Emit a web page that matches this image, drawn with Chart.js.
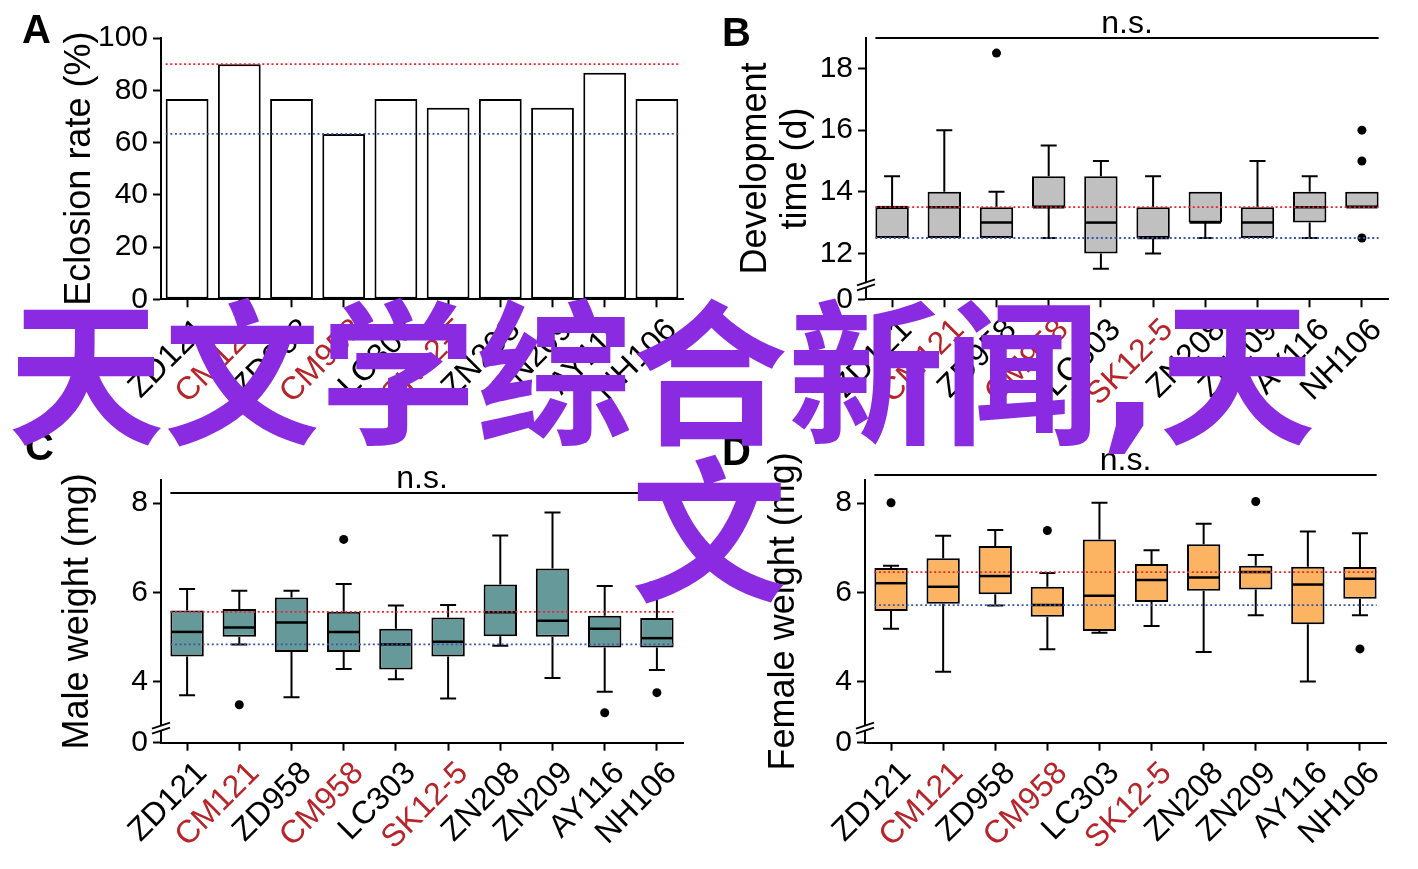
<!DOCTYPE html>
<html><head><meta charset="utf-8">
<script src="https://cdn.jsdelivr.net/npm/chart.js@4.4.1/dist/chart.umd.min.js"></script>
<style>
html,body{margin:0;padding:0;background:#fff;width:1418px;height:869px;overflow:hidden;position:relative;}
canvas{position:absolute;}
.lbl{position:absolute;font-family:"Liberation Sans",Arial,sans-serif;font-weight:bold;font-size:40px;line-height:40px;color:#000;z-index:5;}
.wm{position:absolute;font-family:"DejaVu Sans","Noto Sans CJK SC",sans-serif;font-weight:bold;font-size:156px;line-height:156px;color:#8a2be2;white-space:nowrap;z-index:10;}
</style></head><body>
<canvas id="cA" width="709" height="434" style="left:0;top:0"></canvas>
<canvas id="cB" width="709" height="434" style="left:709px;top:0"></canvas>
<canvas id="cC" width="709" height="435" style="left:0;top:434px"></canvas>
<canvas id="cD" width="709" height="435" style="left:709px;top:434px"></canvas>
<div class="lbl" style="left:22px;top:9px">A</div>
<div class="lbl" style="left:722px;top:12px">B</div>
<div class="lbl" style="left:25px;top:426px">C</div>
<div class="lbl" style="left:722px;top:431px">D</div>
<div class="wm" style="left:8px;top:300px">天文学综合新闻,天</div>
<div class="wm" style="left:631px;top:457px">文</div>
<script>
// ---------- data ----------
const strains = ['ZD121','CM121','ZD958','CM958','LC303','SK12-5','ZN208','ZN209','AY116','NH106'];
const redStrains = ['CM121','CM958','SK12-5'];

// A: eclosion rate (%)
const eclosionRate = [76.7, 90.0, 76.7, 63.3, 76.7, 73.3, 76.7, 73.3, 86.7, 76.7];
const eclosionRefRed = 90.0;
const eclosionRefBlue = 63.3;
const eclosionTicks = [0, 20, 40, 60, 80, 100];

// B: development time (d)
const devLow  = [12.5, 12.5, 12.5, 12.5, 11.5, 12.0, 12.5, 12.5, 12.5, 13.5];
const devQ1   = [12.5, 12.5, 12.5, 13.5, 12.0, 12.5, 13.0, 12.5, 13.0, 13.5];
const devMed  = [13.5, 13.5, 13.0, 13.5, 13.0, 12.5, 13.0, 13.0, 13.5, 13.5];
const devQ3   = [13.5, 14.0, 13.5, 14.5, 14.5, 13.5, 14.0, 13.5, 14.0, 14.0];
const devHigh = [14.5, 16.0, 14.0, 15.5, 15.0, 14.5, 14.0, 15.0, 14.5, 14.0];
const devOutlierStrain = ['ZD958', 'NH106', 'NH106', 'NH106'];
const devOutlierValue  = [18.5, 16.0, 15.0, 12.5];
const devRefRed = 13.5, devRefBlue = 12.5;
const devTicks = [12, 14, 16, 18];
const devAxisBreak = 10.51, devAxisTop = 19.0, devNs = 19.0;

// C: male weight (mg)
const maleLow  = [3.70, 4.84, 3.66, 4.29, 4.06, 3.63, 4.81, 4.09, 3.78, 4.27];
const maleQ1   = [4.57, 5.01, 4.67, 4.67, 4.28, 4.57, 5.02, 5.01, 4.77, 4.77];
const maleMed  = [5.12, 5.22, 5.33, 5.12, 4.84, 4.90, 5.56, 5.37, 5.19, 4.98];
const maleQ3   = [5.60, 5.63, 5.89, 5.57, 5.19, 5.44, 6.18, 6.54, 5.48, 5.43];
const maleHigh = [6.08, 6.04, 6.04, 6.19, 5.71, 5.72, 7.28, 7.79, 6.15, 6.22];
const maleOutlierStrain = ['CM121', 'CM958', 'AY116', 'NH106'];
const maleOutlierValue  = [3.49, 7.19, 3.31, 3.76];
const maleRefRed = 5.57, maleRefBlue = 4.84;
const weightTicks = [4, 6, 8];
const maleAxisBreak = 2.64, maleAxisTop = 8.52, maleNs = 8.24;

// D: female weight (mg)
const femLow  = [5.19, 4.23, 5.71, 4.73, 5.10, 5.25, 4.67, 5.49, 4.01, 5.49];
const femQ1   = [5.59, 5.75, 5.96, 5.46, 5.14, 5.79, 6.04, 6.07, 5.29, 5.86];
const femMed  = [6.21, 6.13, 6.37, 5.72, 5.93, 6.28, 6.34, 6.46, 6.18, 6.31];
const femQ3   = [6.55, 6.77, 7.04, 6.13, 7.19, 6.64, 7.08, 6.60, 6.58, 6.57];
const femHigh = [6.60, 7.27, 7.40, 6.44, 8.01, 6.95, 7.54, 6.84, 7.37, 7.33];
const femOutlierStrain = ['ZD121', 'CM958', 'ZN209', 'NH106'];
const femOutlierValue  = [8.01, 7.39, 8.04, 4.74];
const femRefRed = 6.46, femRefBlue = 5.72;
const femAxisBreak = 2.64, femAxisTop = 8.52, femNs = 8.63;

// ---------- styling ----------
Chart.defaults.font.family = '"Liberation Sans", Arial, Helvetica, sans-serif';
Chart.defaults.color = '#000';
Chart.defaults.animation = false;
const LABEL_RED = '#b7242a';
const REF_RED = '#e8242a';
const REF_BLUE = '#3a57a7';

const extrasPlugin = {
  id: 'extras',
  afterDatasetsDraw(chart) {
    const o = chart.options.plugins.extras;
    if (!o) return;
    const {ctx, chartArea} = chart;
    const y = chart.scales.y;
    const meta = chart.getDatasetMeta(0);
    const first = meta.data[0], last = meta.data[meta.data.length - 1];
    const xL = first.x - first.width / 2, xR = last.x + last.width / 2;
    ctx.save();
    // whiskers + medians
    if (o.low) {
      ctx.strokeStyle = '#000';
      o.low.forEach((lo, i) => {
        const el = meta.data[i];
        const cx = el.x, hw = el.width / 2, cap = 8;
        const pLo = y.getPixelForValue(lo), pQ1 = y.getPixelForValue(o.q1[i]);
        const pQ3 = y.getPixelForValue(o.q3[i]), pHi = y.getPixelForValue(o.high[i]);
        const pMed = y.getPixelForValue(o.med[i]);
        ctx.lineWidth = 2;
        ctx.beginPath();
        if (o.high[i] > o.q3[i]) {
          ctx.moveTo(cx, pQ3); ctx.lineTo(cx, pHi);
          ctx.moveTo(cx - cap, pHi); ctx.lineTo(cx + cap, pHi);
        }
        if (lo < o.q1[i]) {
          ctx.moveTo(cx, pQ1); ctx.lineTo(cx, pLo);
          ctx.moveTo(cx - cap, pLo); ctx.lineTo(cx + cap, pLo);
        }
        ctx.stroke();
        ctx.lineWidth = 2.5;
        ctx.beginPath();
        ctx.moveTo(cx - hw + 1, pMed); ctx.lineTo(cx + hw - 1, pMed);
        ctx.stroke();
      });
    }
    // dotted reference lines
    ctx.lineWidth = 1.8;
    ctx.setLineDash([2, 2.6]);
    [[o.refRed, REF_RED], [o.refBlue, REF_BLUE]].forEach(([v, c]) => {
      const py = y.getPixelForValue(v);
      ctx.strokeStyle = c;
      ctx.beginPath(); ctx.moveTo(xL, py); ctx.lineTo(xR, py); ctx.stroke();
    });
    ctx.setLineDash([]);
    // n.s. bracket
    if (o.ns !== undefined) {
      const py = Math.round(y.getPixelForValue(o.ns));
      ctx.strokeStyle = '#000'; ctx.lineWidth = 2;
      ctx.beginPath(); ctx.moveTo(xL, py); ctx.lineTo(xR, py); ctx.stroke();
      ctx.fillStyle = '#000';
      ctx.font = '32px "Liberation Sans", Arial, sans-serif';
      ctx.textAlign = 'center'; ctx.textBaseline = 'alphabetic';
      ctx.fillText('n.s.', (xL + xR) / 2, py - 5);
    }
    // axis break
    if (o.axisBreak) {
      const ax = chartArea.left, yb = chartArea.bottom - 10;
      ctx.fillStyle = '#fff';
      ctx.beginPath();
      ctx.moveTo(ax - 9, yb + 1); ctx.lineTo(ax + 9, yb - 5);
      ctx.lineTo(ax + 9, yb - 10); ctx.lineTo(ax - 9, yb - 4); ctx.closePath(); ctx.fill();
      ctx.strokeStyle = '#000'; ctx.lineWidth = 1.8;
      ctx.beginPath();
      ctx.moveTo(ax - 9, yb + 1); ctx.lineTo(ax + 9, yb - 5);
      ctx.moveTo(ax - 9, yb - 4); ctx.lineTo(ax + 9, yb - 10);
      ctx.stroke();
    }
    ctx.restore();
  }
};

function xAxis(height) {
  return {
    type: 'category', offset: true,
    grid: { display: true, drawOnChartArea: false, offset: false, tickLength: 8, tickWidth: 2, tickColor: '#000' },
    border: { display: true, color: '#000', width: 2 },
    ticks: {
      autoSkip: false, maxRotation: 45, minRotation: 45, padding: 4, labelOffset: 15,
      font: { size: 32 },
      color: c => redStrains.includes(strains[c.index]) ? LABEL_RED : '#000'
    },
    afterFit: s => { s.height = height; s.paddingLeft = 0; s.paddingRight = 0; }
  };
}
function yAxis(width, title, titlePad, min, max, tickVals, hasBreak) {
  return {
    type: 'linear', min: min, max: max,
    afterBuildTicks: s => { s.ticks = tickVals.map(v => ({ value: v })); },
    grid: { display: true, drawOnChartArea: false, tickLength: 8, tickWidth: 2, tickColor: '#000' },
    border: { display: true, color: '#000', width: 2 },
    ticks: { padding: 5, font: { size: 30 }, callback: v => (hasBreak && v === min) ? '0' : String(v) },
    title: { display: true, text: title, font: { size: 36, lineHeight: 1.11 }, padding: { top: titlePad, bottom: 0 }, color: '#000' },
    afterFit: s => { s.width = width; s.paddingTop = 0; s.paddingBottom = 0; }
  };
}
function baseOptions(pad, scales, extras) {
  return {
    responsive: false, animation: false,
    layout: { padding: pad },
    plugins: { legend: { display: false }, tooltip: { enabled: false }, extras: extras },
    scales: scales
  };
}
function boxChart(id, q1, q3, fill, outS, outV, pad, xH, yW, title, titlePad, min, max, ticks, extras) {
  return new Chart(document.getElementById(id), {
    type: 'bar',
    data: {
      labels: strains,
      datasets: [
        { type: 'bar', data: q1.map((v, i) => [v, q3[i]]), backgroundColor: fill, borderColor: '#000',
          borderWidth: 2, borderSkipped: false, barPercentage: 0.64, categoryPercentage: 1 },
        { type: 'scatter', data: outS.map((s, i) => ({ x: s, y: outV[i] })), showLine: false,
          pointRadius: 4.5, pointBackgroundColor: '#000', pointBorderWidth: 0 }
      ]
    },
    options: baseOptions(pad, {
      x: xAxis(xH),
      y: yAxis(yW, title, titlePad, min, max, [min].concat(ticks), true)
    }, extras),
    plugins: [extrasPlugin]
  });
}

// A
new Chart(document.getElementById('cA'), {
  type: 'bar',
  data: { labels: strains, datasets: [{ data: eclosionRate, backgroundColor: '#fff', borderColor: '#000',
    borderWidth: 2, borderSkipped: false, barPercentage: 0.82, categoryPercentage: 1 }] },
  options: baseOptions({ left: 0, top: 38, right: 26, bottom: 0 }, {
    x: xAxis(134.7),
    y: yAxis(161, 'Eclosion rate (%)', 60, 0, 100, eclosionTicks, false)
  }, { refRed: eclosionRefRed, refBlue: eclosionRefBlue }),
  plugins: [extrasPlugin]
});

// B
boxChart('cB', devQ1, devQ3, '#c0c0c0', devOutlierStrain, devOutlierValue,
  { left: 0, top: 37.7, right: 30, bottom: 0 }, 134.7, 157, ['Development', 'time (d)'], 27,
  devAxisBreak, devAxisTop, devTicks,
  { low: devLow, q1: devQ1, med: devMed, q3: devQ3, high: devHigh, refRed: devRefRed, refBlue: devRefBlue, ns: devNs, axisBreak: true });

// C
boxChart('cC', maleQ1, maleQ3, '#669a9a', maleOutlierStrain, maleOutlierValue,
  { left: 0, top: 46, right: 26, bottom: 0 }, 126.3, 161, 'Male weight (mg)', 58,
  maleAxisBreak, maleAxisTop, weightTicks,
  { low: maleLow, q1: maleQ1, med: maleMed, q3: maleQ3, high: maleHigh, refRed: maleRefRed, refBlue: maleRefBlue, ns: maleNs, axisBreak: true });

// D
boxChart('cD', femQ1, femQ3, '#fdb462', femOutlierStrain, femOutlierValue,
  { left: 0, top: 46, right: 32, bottom: 0 }, 126.3, 156, 'Female weight (mg)', 55,
  femAxisBreak, femAxisTop, weightTicks,
  { low: femLow, q1: femQ1, med: femMed, q3: femQ3, high: femHigh, refRed: femRefRed, refBlue: femRefBlue, ns: femNs, axisBreak: true });
</script>
</body></html>
